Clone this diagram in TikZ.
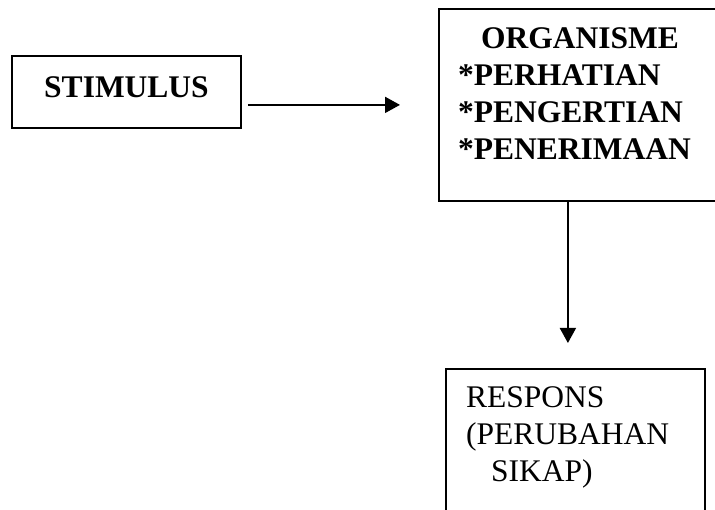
\documentclass[tikz,border=0pt]{standalone}
\usepackage{fontspec}
\setmainfont{Liberation Serif}
\usetikzlibrary{arrows.meta}
\tikzset{
  kotak/.style={draw, line width=1.8pt, inner sep=0pt},
  teks/.style={inner sep=0pt, align=left, font=\fontsize{31.5}{37}\selectfont},
  tebal/.style={inner sep=0pt, align=left, font=\bfseries\fontsize{31.5}{37}\selectfont},
  panah/.style={line width=1.8pt, -{Triangle[length=15pt,width=16pt]}}
}
\begin{document}
\begin{tikzpicture}[x=1pt,y=-1pt]
  \useasboundingbox (0,0) rectangle (715,510);
  \clip (0,0) rectangle (715,510);
  % kotak-kotak
  \node[kotak, tebal, minimum width=229pt, minimum height=72pt, text depth=9pt] (stimulus) at (126.5,92) {STIMULUS};
  \node[kotak, anchor=north west, minimum width=310pt, minimum height=192pt] (organisme) at (438,8) {};
  \node[tebal, anchor=north west] (organismeteks) at (458,27)
    {\hspace*{23pt}ORGANISME\\{*}PERHATIAN\\{*}PENGERTIAN\\{*}PENERIMAAN};
  \node[kotak, anchor=north west, minimum width=259pt, minimum height=180pt] (respons) at (445,368) {};
  \node[teks, anchor=north west] (responsteks) at (466,386)
    {RESPONS\\(PERUBAHAN\\\hspace*{25pt}SIKAP)};
  % panah
  \draw[panah, shorten <=6pt, shorten >=38pt] (stimulus.east |- organisme.west) -- (organisme.west);
  \draw[panah, shorten >=25pt] ([xshift=-26pt]organisme.south) -- ([xshift=-7.5pt]respons.north);
\end{tikzpicture}
\end{document}
